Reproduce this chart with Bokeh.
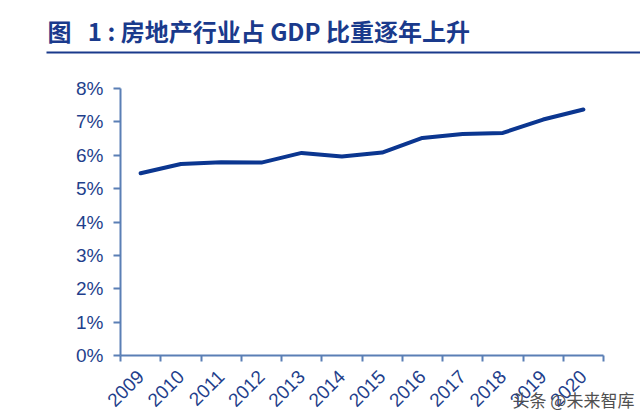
from bokeh.plotting import figure
from bokeh.layouts import column
from bokeh.models import (Label, FixedTicker, NumeralTickFormatter, Range1d,
                          BoxAnnotation, Title)
from bokeh.embed import file_html
from bokeh.resources import INLINE
import math

# Real estate value added as a share of GDP, 2009-2020
years = ["2009", "2010", "2011", "2012", "2013", "2014",
         "2015", "2016", "2017", "2018", "2019", "2020"]
share = [0.0546, 0.0574, 0.0579, 0.0578, 0.0607, 0.0596,
         0.0608, 0.0652, 0.0664, 0.0667, 0.0707, 0.0737]
y_ticks = [0, 0.01, 0.02, 0.03, 0.04, 0.05, 0.06, 0.07, 0.08]

title_text = "图\u00a0\u00a0\u00a01 : 房地产行业占 GDP 比重逐年上升"
source_text = "头条 @未来智库"

NAVY = "#0b3690"
AXIS = "#5a7fb5"
LABEL = "#1f3f8c"
TITLE = "#1a3a8c"

HEAD_H = 62

# ---- heading strip with its rule underneath
head = figure(width=640, height=HEAD_H, output_backend="svg",
              toolbar_location=None, min_border=0,
              x_range=Range1d(0, 640), y_range=Range1d(0, HEAD_H))
head.frame_align = False
head.axis.visible = False
head.grid.visible = False
head.outline_line_color = None
head.add_layout(Label(x=47, y=HEAD_H - 30, x_units="screen", y_units="screen",
                      text=title_text, text_font="Noto Sans CJK SC",
                      text_font_style="bold", text_font_size="24px",
                      text_color=TITLE, text_baseline="middle"))
head.add_layout(BoxAnnotation(left=46, right=640, bottom=HEAD_H - 53,
                              top=HEAD_H - 51,
                              left_units="screen", right_units="screen",
                              bottom_units="screen", top_units="screen",
                              fill_color=TITLE, fill_alpha=1, line_color=None))

# ---- line chart; categories sit in the middle of unit-wide slots
xs = [i + 0.5 for i in range(len(years))]

p = figure(width=640, height=420 - HEAD_H, output_backend="svg",
           toolbar_location=None,
           x_range=Range1d(0, len(years)), y_range=Range1d(0, 0.08),
           min_border_left=120, min_border_right=37, min_border_top=88 - HEAD_H,
           min_border_bottom=65)
p.outline_line_color = None
p.grid.grid_line_color = None

p.line(xs, share, line_color=NAVY, line_width=4, line_join="round",
       line_cap="round")

# x axis: labels at slot centres, tick marks at slot edges
xa = p.xaxis[0]
xa.ticker = FixedTicker(ticks=xs, minor_ticks=list(range(len(years) + 1)))
xa.major_label_overrides = {x: y for x, y in zip(xs, years)}
xa.major_label_orientation = math.pi / 4
xa.major_tick_line_color = None
xa.minor_tick_line_color = AXIS
xa.minor_tick_line_width = 2
xa.minor_tick_out = 6
xa.minor_tick_in = 0
xa.axis_line_color = AXIS
xa.axis_line_width = 2
xa.major_label_text_font = "Liberation Sans"
xa.major_label_text_font_size = "19px"
xa.major_label_text_color = LABEL
xa.major_label_standoff = 12

ya = p.yaxis[0]
ya.ticker = FixedTicker(ticks=y_ticks)
ya.formatter = NumeralTickFormatter(format="0%")
ya.minor_tick_line_color = None
ya.major_tick_line_color = AXIS
ya.major_tick_line_width = 2
ya.major_tick_out = 7
ya.major_tick_in = 0
ya.axis_line_color = AXIS
ya.axis_line_width = 2
ya.major_label_text_font = "Liberation Sans"
ya.major_label_text_font_size = "19px"
ya.major_label_text_color = LABEL
ya.major_label_standoff = 10

# source credit over the lower right of the axis labels
p.add_layout(Title(text=source_text, align="left", offset=392, standoff=-57,
                   vertical_align="top",
                   text_font="Noto Sans CJK SC", text_font_size="17px",
                   text_font_style="normal", text_color="#505050"), "below")

open("out.html", "w").write(file_html(column(head, p, spacing=0), INLINE))
